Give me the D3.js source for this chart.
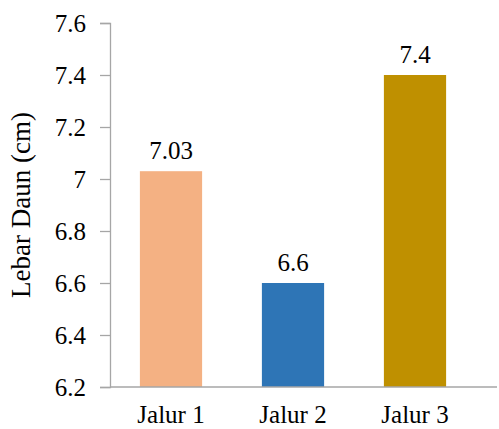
<!DOCTYPE html>
<html>
<head>
<meta charset="utf-8">
<script src="https://cdn.jsdelivr.net/npm/d3@7"></script>
<style>
  html, body { margin: 0; padding: 0; background: #fff; }
  svg { display: block; }
</style>
</head>
<body>
<svg id="chart" width="499" height="429"></svg>
<script>
// Leaf width per route
const categories = ["Jalur 1", "Jalur 2", "Jalur 3"];
const values = [7.03, 6.6, 7.4];
const valueLabels = ["7.03", "6.6", "7.4"];
const barColors = ["#F4B183", "#2E75B6", "#BF9000"];
const yTicks = [6.2, 6.4, 6.6, 6.8, 7.0, 7.2, 7.4, 7.6];
const yTickLabels = ["6.2", "6.4", "6.6", "6.8", "7", "7.2", "7.4", "7.6"];
const yTitle = "Lebar Daun (cm)";

(function () {
  const FONT = "'Liberation Serif', 'Times New Roman', 'DejaVu Serif', serif";
  const svg = d3.select("#chart").attr("font-family", FONT);
  const plotLeft = 110, plotRight = 476, plotTop = 23, plotBottom = 387, axisEnd = 497;
  const axisGrey = "#A6A6A6";

  const x = d3.scaleBand().domain(categories).range([plotLeft, plotRight])
    .paddingInner(0.49).paddingOuter(0.245);
  const y = d3.scaleLinear().domain([6.2, 7.6]).range([plotBottom, plotTop]);

  // y axis
  const yAxis = d3.axisLeft(y).tickValues(yTicks)
    .tickFormat((d, i) => yTickLabels[i]).tickSize(10).tickPadding(14);
  const gy = svg.append("g").attr("transform", `translate(${plotLeft},0)`).call(yAxis)
    .attr("font-family", FONT).attr("font-size", 25);
  gy.select(".domain").attr("stroke", axisGrey).attr("stroke-width", 1.3);
  gy.selectAll(".tick line").attr("stroke", axisGrey).attr("stroke-width", 1.3);
  gy.selectAll(".tick text").attr("fill", "#000");

  // bars
  svg.append("g").selectAll("rect").data(values).join("rect")
    .attr("x", (d, i) => x(categories[i]))
    .attr("width", x.bandwidth())
    .attr("y", d => y(d))
    .attr("height", d => y(6.2) - y(d))
    .attr("fill", (d, i) => barColors[i]);

  // value labels
  svg.append("g").attr("font-size", 25).selectAll("text").data(values).join("text")
    .attr("x", (d, i) => x(categories[i]) + x.bandwidth() / 2)
    .attr("y", d => y(d) - 12)
    .attr("text-anchor", "middle")
    .attr("fill", "#000")
    .text((d, i) => valueLabels[i]);

  // x axis
  const xAxis = d3.axisBottom(x).tickSize(0);
  const gx = svg.append("g").attr("transform", `translate(0,${plotBottom})`).call(xAxis)
    .attr("font-family", FONT).attr("font-size", 25);
  gx.select(".domain").remove();
  gx.append("line").attr("x1", plotLeft).attr("x2", axisEnd).attr("y1", 0).attr("y2", 0)
    .attr("stroke", axisGrey).attr("stroke-width", 1.3);
  gx.selectAll(".tick text").attr("fill", "#000").attr("y", 36).attr("dy", null);

  // y title
  svg.append("text")
    .attr("transform", `translate(30,205) rotate(-90)`)
    .attr("text-anchor", "middle")
    .attr("font-size", 27)
    .attr("fill", "#000")
    .text(yTitle);
})();
</script>
</body>
</html>
